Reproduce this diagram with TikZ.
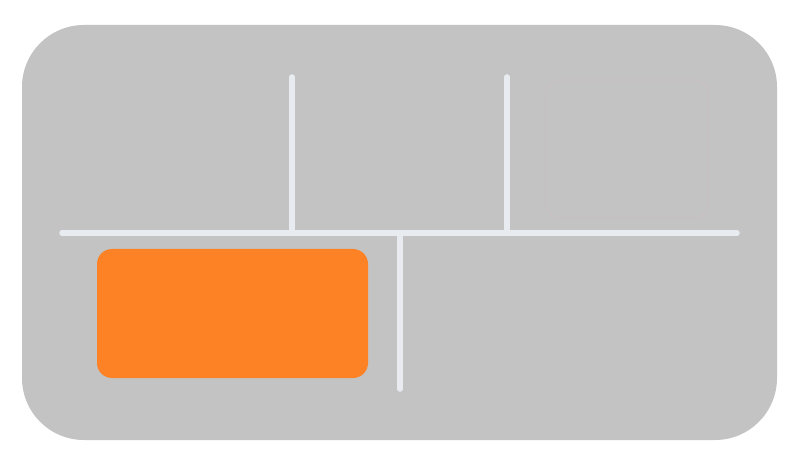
\documentclass[tikz,border=0pt]{standalone}
\definecolor{panel}{HTML}{C3C3C3}
\definecolor{groove}{HTML}{E8ECF0}
\definecolor{accent}{HTML}{FD8225}
\definecolor{faint}{HTML}{CBBFBF}
\tikzset{
  panelbox/.style={fill=panel, draw=none, rounded corners=62pt},
  groovewall/.style={draw=groove, line width=5.5pt, line cap=round},
  orangebox/.style={fill=accent, draw=none, rounded corners=15pt},
  faintbox/.style={draw=faint, line width=0.8pt, fill=panel, rounded corners=15pt}
}
\begin{document}
\begin{tikzpicture}[x=1pt,y=-1pt]
\useasboundingbox (0,0) rectangle (797,462);
\fill[white] (0,0) rectangle (797,462);
\path[panelbox] (22,25) rectangle (777,440);
\path[faintbox] (546,80) rectangle (709,218);
\coordinate (hl) at (62,233);
\coordinate (hr) at (737,233);
\coordinate (v1t) at (292,77);
\coordinate (v1b) at (292,233);
\coordinate (v2t) at (507,77);
\coordinate (v2b) at (507,233);
\coordinate (v3t) at (400,233);
\coordinate (v3b) at (400,389);
\draw[groovewall] (hl) -- (hr);
\draw[groovewall] (v1t) -- (v1b);
\draw[groovewall] (v2t) -- (v2b);
\draw[groovewall] (v3t) -- (v3b);
\path[orangebox] (97,249) rectangle (368,378);
\end{tikzpicture}
\end{document}
